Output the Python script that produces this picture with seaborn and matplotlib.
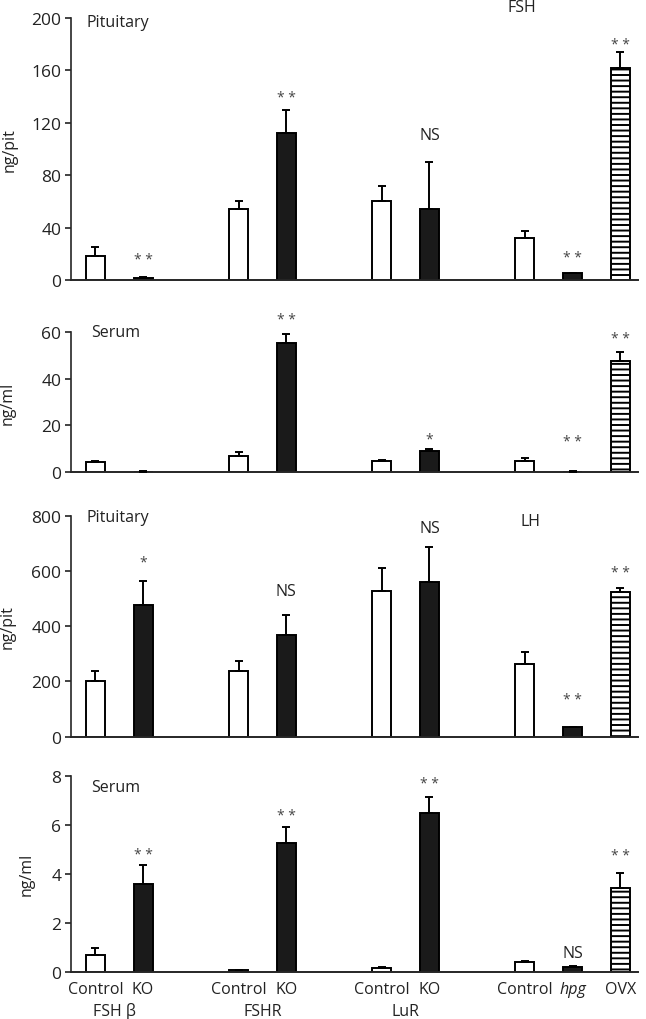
import numpy as np
import pandas as pd
import seaborn as sns
import matplotlib
matplotlib.use("Agg")
import matplotlib.pyplot as plt

sns.set_style("ticks")
plt.rcParams["font.family"] = ["Open Sans", "DejaVu Sans"]
plt.rcParams["hatch.linewidth"] = 1.4

# ---------------- data ----------------
bar_labels = ["Control", "KO", "Control", "KO", "Control", "KO", "Control", "hpg", "OVX"]
bar_kind = ["control", "ko", "control", "ko", "control", "ko", "control", "ko", "ovx"]
group_labels = ["FSH β", "FSHR", "LuR"]

# FSH pituitary (ng/pit): mean and mean+SEM
fsh_pit = [18.5, 1.5, 54, 112.5, 60.5, 54, 32, 5, 161.5]
fsh_pit_top = [25, 2.5, 60, 130, 72, 90, 37.5, 5.5, 174]
fsh_pit_sig = ["", "**", "", "**", "", "NS", "", "**", "**"]

# FSH serum (ng/ml)
fsh_ser = [4.3, 0.3, 7.1, 55.3, 4.7, 9.0, 5.0, 0.3, 47.6]
fsh_ser_top = [5.0, 0.7, 8.8, 59.0, 5.3, 10.0, 6.1, 0.4, 51.5]
fsh_ser_sig = ["", "", "", "**", "", "*", "", "**", "**"]

# LH pituitary (ng/pit)
lh_pit = [203, 477, 239, 369, 526, 561, 263, 34, 525]
lh_pit_top = [239, 563, 273, 442, 611, 686, 305, 36, 538]
lh_pit_sig = ["", "*", "", "NS", "", "NS", "", "**", "**"]

# LH serum (ng/ml)
lh_ser = [0.68, 3.58, 0.05, 5.24, 0.16, 6.48, 0.38, 0.19, 3.40]
lh_ser_top = [0.97, 4.36, 0.05, 5.90, 0.20, 7.14, 0.45, 0.24, 4.03]
lh_ser_sig = ["", "**", "", "**", "", "**", "", "NS", "**"]

# ---------------- layout ----------------
pos = [0, 1, 3, 4, 6, 7, 9, 10, 11]
group_centers = [0.4, 3.5, 6.5]
palette = {"control": "white", "ko": "#1a1a1a", "ovx": "white"}

panels = [
    dict(vals=fsh_pit, top=fsh_pit_top, sig=fsh_pit_sig, ymax=200, yticks=[0, 40, 80, 120, 160, 200],
         ylabel="ng/pit", label="Pituitary", rect=[0.1099, 0.7245, 0.8777, 0.2569],
         sig_y=[0, 15.3, 0, 139, 0, 111, 0, 16.8, 180], lab_xy=(0.028, 0.985), ylab_x=-0.094,
         title="FSH", title_xy=(8.94, 208)),
    dict(vals=fsh_ser, top=fsh_ser_top, sig=fsh_ser_sig, ymax=60, yticks=[0, 20, 40, 60],
         ylabel="ng/ml", label="Serum", rect=[0.1099, 0.5360, 0.8777, 0.1378],
         sig_y=[0, 0, 0, 65.1, 0, 14.2, 0, 13.1, 57.2], lab_xy=(0.035, 0.996), ylab_x=-0.098,
         title=None, title_xy=None),
    dict(vals=lh_pit, top=lh_pit_top, sig=lh_pit_sig, ymax=800, yticks=[0, 200, 400, 600, 800],
         ylabel="ng/pit", label="Pituitary", rect=[0.1099, 0.2768, 0.8777, 0.2167],
         sig_y=[0, 632, 0, 528, 0, 754, 0, 136, 595], lab_xy=(0.028, 0.994), ylab_x=-0.098,
         title="LH", title_xy=(9.11, 779)),
    dict(vals=lh_ser, top=lh_ser_top, sig=lh_ser_sig, ymax=8, yticks=[0, 2, 4, 6, 8],
         ylabel="ng/ml", label="Serum", rect=[0.1099, 0.0464, 0.8777, 0.1922],
         sig_y=[0, 4.8, 0, 6.37, 0, 7.66, 0, 0.76, 4.73], lab_xy=(0.035, 0.942), ylab_x=-0.064,
         title=None, title_xy=None),
]

fig = plt.figure(figsize=(6.46, 10.2), dpi=100)
FS = 11.5
TFS = 12.5
TXT = "#222222"

for i, p in enumerate(panels):
    ax = fig.add_axes(p["rect"])
    df = pd.DataFrame({"pos": pos, "val": p["vals"], "kind": bar_kind})
    sns.barplot(data=df, x="pos", y="val", hue="kind", palette=palette, native_scale=True,
                dodge=False, width=0.4, edgecolor="black", linewidth=1.4, errorbar=None,
                legend=False, ax=ax)
    for patch in ax.patches:
        cx = patch.get_x() + patch.get_width() / 2
        k = int(np.argmin([abs(cx - q) for q in pos]))
        if bar_kind[k] == "ovx":
            patch.set_hatch("---")
    vals = np.array(p["vals"], dtype=float)
    top = np.array(p["top"], dtype=float)
    ax.errorbar(pos, vals, yerr=[np.zeros_like(vals), top - vals], fmt="none", ecolor="black",
                elinewidth=1.4, capsize=2.6, capthick=1.4, zorder=3)
    for x, s, y in zip(pos, p["sig"], p["sig_y"]):
        if s:
            if s == "NS":
                ax.text(x, y, s, ha="center", va="center", fontsize=FS, color=TXT, clip_on=False)
            else:
                ax.text(x, y, " ".join(s), ha="center", va="center", fontsize=FS - 1.5,
                        color="#444444", clip_on=False)
    ax.set_xlim(-0.51, 11.37)
    ax.set_ylim(0, p["ymax"])
    ax.set_yticks(p["yticks"])
    ax.tick_params(axis="y", direction="out", length=4, width=1.2, labelsize=TFS, pad=3, color=TXT,
                   labelcolor=TXT)
    ax.tick_params(axis="x", length=0)
    sns.despine(ax=ax)
    ax.spines["left"].set_linewidth(1.2)
    ax.spines["bottom"].set_linewidth(1.4)
    ax.set_xlabel("")
    ax.set_ylabel(p["ylabel"], fontsize=FS, color=TXT)
    ax.yaxis.set_label_coords(p["ylab_x"], 0.5)
    ax.text(p["lab_xy"][0], p["lab_xy"][1], p["label"], transform=ax.transAxes, ha="left", va="center",
            fontsize=FS, color=TXT)
    if p["title"]:
        ax.text(p["title_xy"][0], p["title_xy"][1], p["title"], ha="center", va="center",
                fontsize=FS, color=TXT, clip_on=False)
    ax.set_xticks(pos)
    if i == 3:
        ax.set_xticklabels(bar_labels, fontsize=FS, color=TXT)
        ax.tick_params(axis="x", pad=7)
        for t in ax.get_xticklabels():
            if t.get_text() == "hpg":
                t.set_fontstyle("italic")
        for gx, g in zip(group_centers, group_labels):
            ax.annotate(g, xy=(gx, -0.2), xycoords=("data", "axes fraction"), ha="center", va="center",
                        fontsize=FS, color=TXT, annotation_clip=False)
    else:
        ax.set_xticklabels([])

fig.savefig("out.png", dpi=100)
